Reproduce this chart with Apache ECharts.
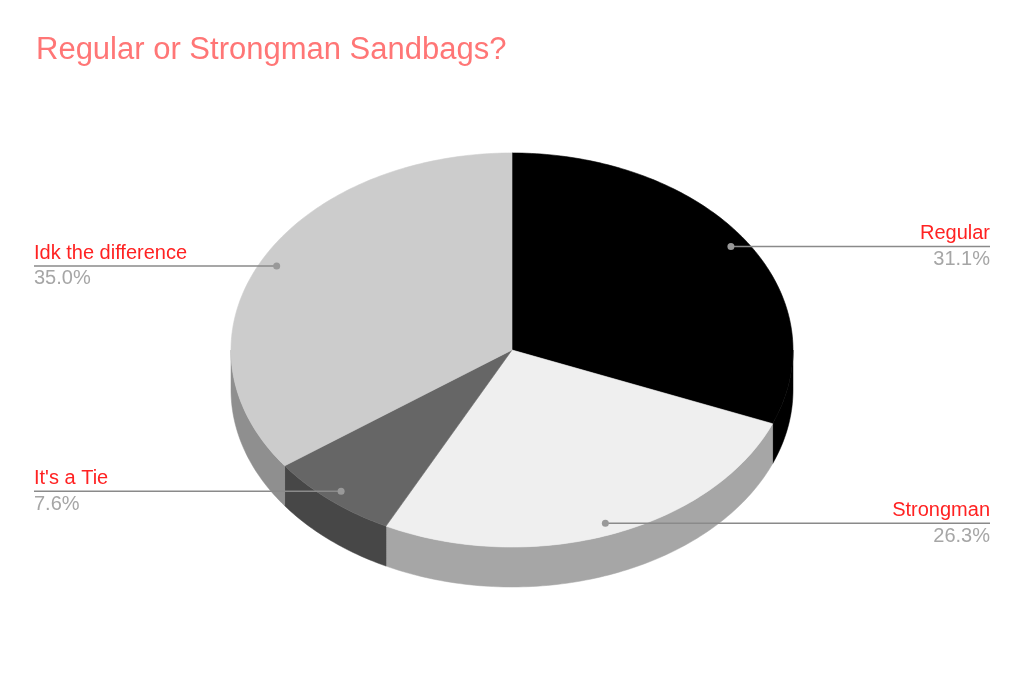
<!DOCTYPE html>
<html><head><meta charset="utf-8">
<script src="https://cdn.jsdelivr.net/npm/echarts@6/dist/echarts.min.js"></script>
<style>html,body{margin:0;background:#fff}#c{width:1024px;height:686px}</style>
</head><body><div id="c"></div>
<script>
const chartTitle = 'Regular or Strongman Sandbags?';
const categories = ['Regular', 'Strongman', "It's a Tie", 'Idk the difference'];
const values = [31.1, 26.3, 7.6, 35.0];
const topColors = ['#000000', '#efefef', '#666666', '#cccccc'];
const sideColors = ['#000000', '#a6a6a6', '#474747', '#8f8f8f'];
const percentLabels = values.map(v => v.toFixed(1) + '%');

const total = values.reduce((a, b) => a + b, 0);
const starts = [];
let acc = 0;
values.forEach(v => { starts.push(acc); acc += v; });

function geom(api) {
  const W = api.getWidth(), H = api.getHeight();
  return { W, H, cx: W * 0.5, cy: H * 0.5102, rx: W * 0.2744, ry: H * 0.2872, d: H * 0.0583 };
}
function pt(g, t, dy) {
  return [g.cx + g.rx * Math.sin(t), g.cy - g.ry * Math.cos(t) + (dy || 0)];
}
function angles(api) {
  const v = api.value(0), i = api.value(1);
  const a1 = starts[i] / total * Math.PI * 2;
  const a2 = (starts[i] + v) / total * Math.PI * 2;
  return [a1, a2, i];
}
const N = 120;
function arc(g, a1, a2, dy) {
  const pts = [];
  const n = Math.max(2, Math.ceil((a2 - a1) / (Math.PI * 2) * N * 3));
  for (let k = 0; k <= n; k++) pts.push(pt(g, a1 + (a2 - a1) * k / n, dy));
  return pts;
}

const seriesData = values.map((v, i) => [v, i]);

const chart = echarts.init(document.getElementById('c'), null, { renderer: 'canvas' });
chart.setOption({
  backgroundColor: '#ffffff',
  animation: false,
  title: {
    text: chartTitle, left: 31, top: 30,
    textStyle: { color: '#ff7676', fontSize: 31, fontWeight: 'normal', fontFamily: 'Liberation Sans, Arial, sans-serif' }
  },
  series: [
    {
      type: 'custom', coordinateSystem: 'none', z: 1, silent: true,
      data: seriesData,
      renderItem: function (params, api) {
        const g = geom(api);
        const [a1, a2, i] = angles(api);
        const s = Math.max(a1, Math.PI / 2), e = Math.min(a2, Math.PI * 1.5);
        if (s >= e) return { type: 'group', children: [] };
        const top = arc(g, s, e, 0);
        const bot = arc(g, s, e, g.d).reverse();
        return {
          type: 'polygon',
          shape: { points: top.concat(bot) },
          style: { fill: sideColors[i], stroke: sideColors[i], lineWidth: 0.5 }
        };
      }
    },
    {
      type: 'custom', coordinateSystem: 'none', z: 2, silent: true,
      data: seriesData,
      renderItem: function (params, api) {
        const g = geom(api);
        const [a1, a2, i] = angles(api);
        const pts = [[g.cx, g.cy]].concat(arc(g, a1, a2, 0));
        return {
          type: 'polygon',
          shape: { points: pts },
          style: { fill: topColors[i], stroke: topColors[i], lineWidth: 0.6 }
        };
      }
    },
    {
      type: 'custom', coordinateSystem: 'none', z: 3, silent: true,
      data: seriesData,
      renderItem: function (params, api) {
        const g = geom(api);
        const [a1, a2, i] = angles(api);
        const mid = (a1 + a2) / 2;
        const rf = 0.94;
        const dot = [g.cx + g.rx * rf * Math.sin(mid), g.cy - g.ry * rf * Math.cos(mid)];
        const right = Math.sin(mid) > 0;
        const xEnd = right ? g.W - 34 : 34;
        const font = { fontSize: 20, fontFamily: 'Liberation Sans, Arial, sans-serif' };
        return {
          type: 'group',
          children: [
            { type: 'line', shape: { x1: dot[0], y1: dot[1], x2: xEnd, y2: dot[1] },
              style: { stroke: '#8a8a8a', lineWidth: 1.5 } },
            { type: 'circle', shape: { cx: dot[0], cy: dot[1], r: 3.5 }, style: { fill: '#999999' } },
            { type: 'text', style: Object.assign({ text: categories[i], x: xEnd, y: dot[1] - 12.5,
                fill: '#ff2222', align: right ? 'right' : 'left', verticalAlign: 'middle' }, font) },
            { type: 'text', style: Object.assign({ text: percentLabels[i], x: xEnd, y: dot[1] + 13,
                fill: '#a6a6a6', align: right ? 'right' : 'left', verticalAlign: 'middle' }, font) }
          ]
        };
      }
    }
  ]
});
</script></body></html>
